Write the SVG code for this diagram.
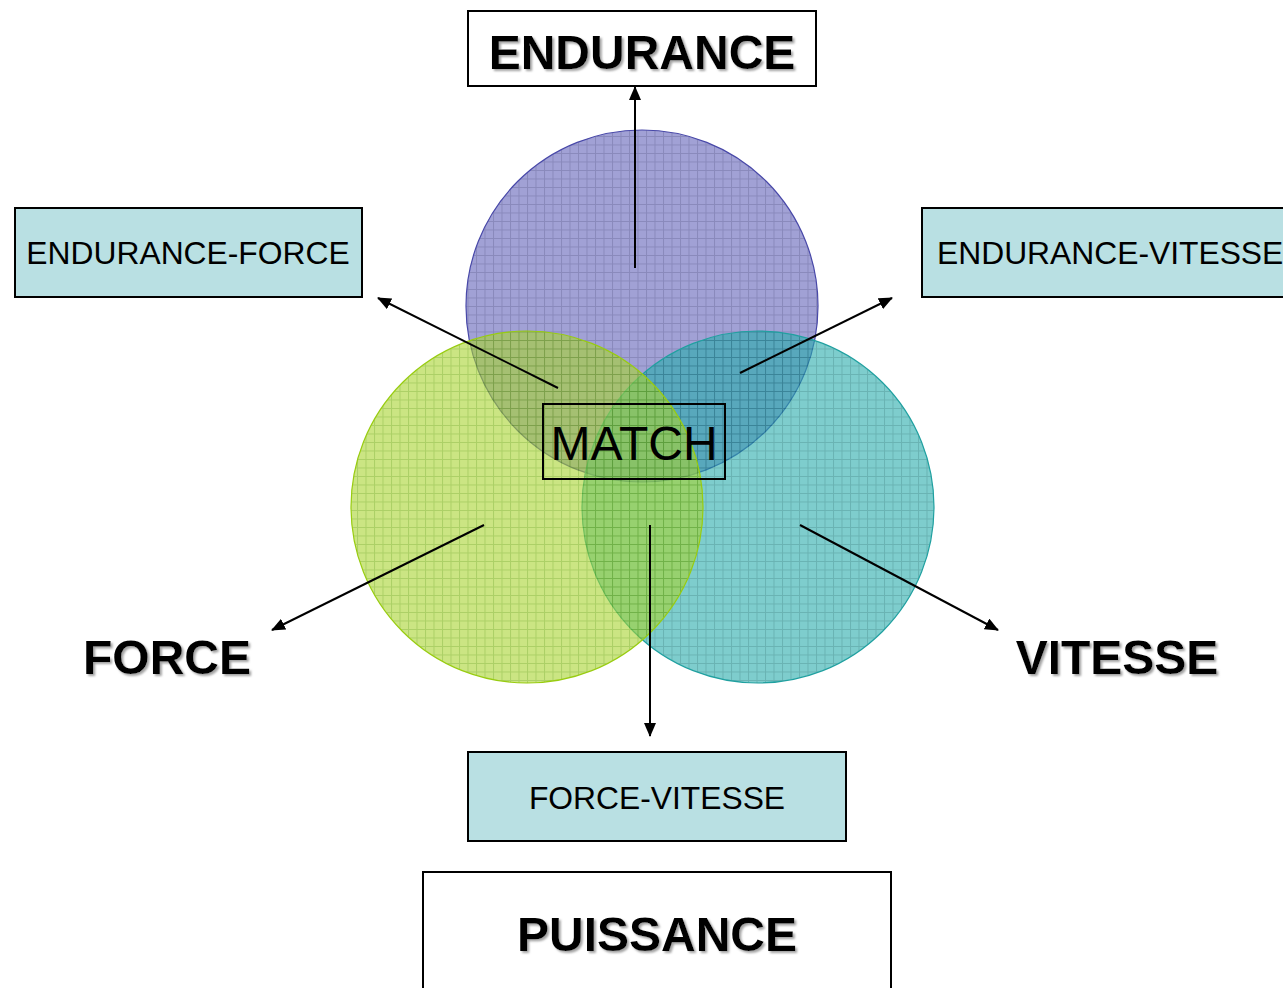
<svg xmlns="http://www.w3.org/2000/svg" width="1283" height="988" viewBox="0 0 1283 988">
  <defs>
    <style>
      .lbl { font-family: "Liberation Sans", Arial, sans-serif; fill: #000; }
      .big { font-size: 48px; font-weight: bold; filter: url(#shadow); }
      .mid { font-size: 31.8px; }
      .box { stroke: #000; stroke-width: 2; }
      .conn { stroke: #000; stroke-width: 2; fill: none; marker-end: url(#arr); }
    </style>
    <filter id="shadow" x="-10%" y="-20%" width="130%" height="150%">
      <feDropShadow dx="2" dy="2" stdDeviation="0.8" flood-color="#999" flood-opacity="0.9"/>
    </filter>
    <marker id="arr" viewBox="0 0 14 12" refX="13" refY="6" markerWidth="14" markerHeight="12" markerUnits="userSpaceOnUse" orient="auto">
      <path d="M0,0 L14,6 L0,12 z" fill="#000"/>
    </marker>
    <pattern id="pBlue" width="8.5" height="8.5" patternUnits="userSpaceOnUse">
      <rect width="8.5" height="8.5" fill="#4444ac"/>
      <path d="M0,0.5 H8.5 M0.5,0 V8.5" stroke="#141478" stroke-width="1"/>
    </pattern>
    <pattern id="pGreen" width="8.5" height="8.5" patternUnits="userSpaceOnUse">
      <rect width="8.5" height="8.5" fill="#a8d430"/>
      <path d="M0,0.5 H8.5 M0.5,0 V8.5" stroke="#74b000" stroke-width="1"/>
    </pattern>
    <pattern id="pTeal" width="8.5" height="8.5" patternUnits="userSpaceOnUse">
      <rect width="8.5" height="8.5" fill="#28acac"/>
      <path d="M0,0.5 H8.5 M0.5,0 V8.5" stroke="#068080" stroke-width="1"/>
    </pattern>
  </defs>

  <rect width="1283" height="988" fill="#fff"/>

  <g id="circles">
    <circle id="c-endurance" cx="642" cy="306" r="176" fill="url(#pBlue)" fill-opacity="0.5" stroke="#4848a8" stroke-width="1.2"/>
    <circle id="c-vitesse" cx="758" cy="507" r="176" fill="url(#pTeal)" fill-opacity="0.6" stroke="#20a0a0" stroke-width="1.2"/>
    <circle id="c-force" cx="527" cy="507" r="176" fill="url(#pGreen)" fill-opacity="0.6" stroke="#98cc10" stroke-width="1.2"/>
  </g>

  <g id="connectors">
    <line class="conn" x1="635" y1="268" x2="635" y2="87"/>
    <line class="conn" x1="558" y1="388" x2="378" y2="298"/>
    <line class="conn" x1="740" y1="373" x2="892" y2="298"/>
    <line class="conn" x1="484" y1="525" x2="272" y2="630"/>
    <line class="conn" x1="800" y1="525" x2="998" y2="630"/>
    <line class="conn" x1="650" y1="525" x2="650" y2="736"/>
  </g>

  <g id="endurance">
    <rect class="box" x="468" y="11" width="348" height="75" fill="#fff"/>
    <text class="lbl big" x="642" y="69" text-anchor="middle">ENDURANCE</text>
  </g>

  <g id="endurance-force">
    <rect class="box" x="15" y="208" width="347" height="89" fill="#b9e0e3"/>
    <text class="lbl mid" x="188" y="264" text-anchor="middle">ENDURANCE-FORCE</text>
  </g>

  <g id="endurance-vitesse">
    <rect class="box" x="922" y="208" width="370" height="89" fill="#b9e0e3"/>
    <text class="lbl mid" x="937" y="264">ENDURANCE-VITESSE</text>
  </g>

  <g id="match">
    <rect class="box" x="543" y="404" width="182" height="75" fill="none"/>
    <text class="lbl" x="634" y="460" text-anchor="middle" font-size="48">MATCH</text>
  </g>

  <g id="force">
    <text class="lbl big" x="167" y="674" text-anchor="middle">FORCE</text>
  </g>

  <g id="vitesse">
    <text class="lbl big" x="1117" y="674" text-anchor="middle">VITESSE</text>
  </g>

  <g id="force-vitesse">
    <rect class="box" x="468" y="752" width="378" height="89" fill="#b9e0e3"/>
    <text class="lbl mid" x="657" y="809" text-anchor="middle">FORCE-VITESSE</text>
  </g>

  <g id="puissance">
    <rect class="box" x="423" y="872" width="468" height="130" fill="#fff"/>
    <text class="lbl big" x="657" y="951" text-anchor="middle">PUISSANCE</text>
  </g>
</svg>
